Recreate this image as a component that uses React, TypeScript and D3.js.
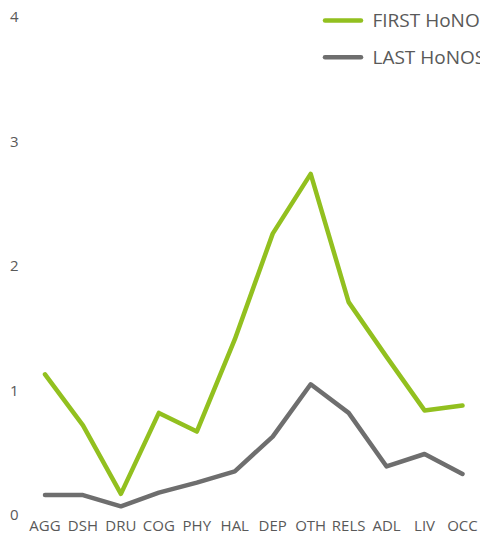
import React from "react";
import * as d3 from "d3";

const categories = ["AGG", "DSH", "DRU", "COG", "PHY", "HAL", "DEP", "OTH", "RELS", "ADL", "LIV", "OCC"];
const firstHonos = [1.13, 0.72, 0.17, 0.82, 0.67, 1.41, 2.26, 2.74, 1.71, 1.27, 0.84, 0.88];
const lastHonos = [0.16, 0.16, 0.07, 0.18, 0.26, 0.35, 0.63, 1.05, 0.82, 0.39, 0.49, 0.33];
const yTicks = [0, 1, 2, 3, 4];
const seriesNames = ["FIRST HoNOS", "LAST HoNOS"];
const seriesColors = ["#92C01F", "#6E6E6E"];

const W = 480;
const H = 534;
const FONT = "'Open Sans', 'Noto Sans', sans-serif";

export default function App() {
  const x = d3.scalePoint<string>().domain(categories).range([45, 462.5]);
  const y = d3.scaleLinear().domain([0, 4]).range([515, 17]);
  const line = d3
    .line<number>()
    .x((_, i) => x(categories[i]) as number)
    .y((d) => y(d));
  const series = [firstHonos, lastHonos];

  return (
    <svg
      width={W}
      height={H}
      style={{ position: "absolute", left: 0, top: 0, background: "#fff" }}
      fontFamily={FONT}
    >
      {yTicks.map((t) => (
        <text key={t} x={18.5} y={y(t)} dy="0.35em" textAnchor="end" fontSize={15} fill="#595959">
          {t}
        </text>
      ))}
      {categories.map((c) => (
        <text key={c} x={x(c)} y={530.5} textAnchor="middle" fontSize={15} fill="#595959">
          {c}
        </text>
      ))}
      {series.map((s, i) => (
        <path
          key={i}
          d={line(s) || ""}
          fill="none"
          stroke={seriesColors[i]}
          strokeWidth={4.5}
          strokeLinejoin="round"
          strokeLinecap="round"
        />
      ))}
      {seriesNames.map((n, i) => (
        <g key={n} transform={`translate(0, ${20.5 + i * 36.7})`}>
          <line x1={325} x2={361} y1={0} y2={0} stroke={seriesColors[i]} strokeWidth={4.5} strokeLinecap="round" />
          <text x={372.5} y={0} dy="0.35em" fontSize={19} fill="#595959">
            {n}
          </text>
        </g>
      ))}
    </svg>
  );
}
